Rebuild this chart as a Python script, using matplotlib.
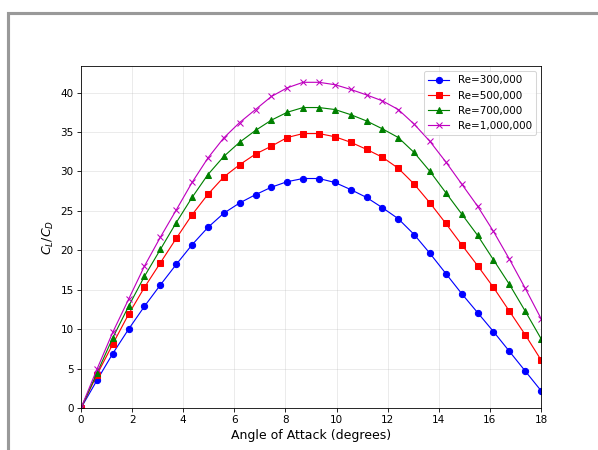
import numpy as np
import matplotlib
matplotlib.use('Agg')
import matplotlib.pyplot as plt
from matplotlib.patches import Rectangle

# angle of attack grid (30 points between 0 and 18 degrees)
alpha = np.linspace(0, 18, 30)

# lift-to-drag ratio for each Reynolds number
ld_300k = [0, 3.5, 6.9, 10.0, 12.9, 15.6, 18.2, 20.7, 22.9, 24.7,
           26.0, 27.05, 28.0, 28.7, 29.1, 29.1, 28.6, 27.7, 26.7, 25.4,
           24.0, 22.0, 19.6, 17.05, 14.5, 12.1, 9.7, 7.2, 4.7, 2.2]
ld_500k = [0, 4.2, 8.1, 11.9, 15.3, 18.4, 21.5, 24.5, 27.1, 29.3,
           30.85, 32.2, 33.2, 34.3, 34.8, 34.8, 34.4, 33.7, 32.8, 31.8,
           30.4, 28.4, 26.0, 23.4, 20.7, 18.06, 15.3, 12.3, 9.3, 6.1]
ld_700k = [0, 4.4, 8.9, 12.9, 16.7, 20.1, 23.5, 26.7, 29.6, 31.9,
           33.7, 35.2, 36.5, 37.5, 38.1, 38.1, 37.85, 37.2, 36.4, 35.4,
           34.3, 32.4, 30.0, 27.3, 24.6, 21.9, 18.8, 15.7, 12.3, 8.8]
ld_1m = [0, 4.9, 9.6, 13.8, 18.0, 21.65, 25.1, 28.6, 31.7, 34.25,
         36.2, 37.85, 39.5, 40.6, 41.3, 41.3, 41.0, 40.4, 39.7, 38.95,
         37.85, 36.0, 33.8, 31.2, 28.4, 25.6, 22.4, 18.9, 15.2, 11.35]

labels = ['Re=300,000', 'Re=500,000', 'Re=700,000', 'Re=1,000,000']

DPI = 598 / 8
fig = plt.figure(figsize=(8, 450 / DPI), dpi=DPI)
ax = fig.add_axes([0.1355, 0.0933, 0.7692, 0.76])

# grey frame around the figure
fig.patches.append(Rectangle((8 / 598, -0.1), 1.2, (450 - 13) / 450 + 0.1,
                             transform=fig.transFigure, fill=False,
                             edgecolor='#999999', linewidth=3))

ax.plot(alpha, ld_300k, 'b-o', markersize=6, linewidth=1.1, label=labels[0])
ax.plot(alpha, ld_500k, 'r-s', markersize=6, linewidth=1.1, label=labels[1])
ax.plot(alpha, ld_700k, 'g-^', markersize=6, linewidth=1.1, label=labels[2])
ax.plot(alpha, ld_1m, 'm-x', markersize=6, linewidth=1.1, label=labels[3])

ax.set_xlim(0, 18)
ax.set_ylim(bottom=0)
ax.set_xticks(range(0, 19, 2))
ax.set_xlabel('Angle of Attack (degrees)', fontsize=12)
ax.set_ylabel('$C_L/C_D$', fontsize=12)
ax.grid(True, alpha=0.3)
ax.legend(loc='upper right')

fig.savefig('out.png', dpi=DPI)
